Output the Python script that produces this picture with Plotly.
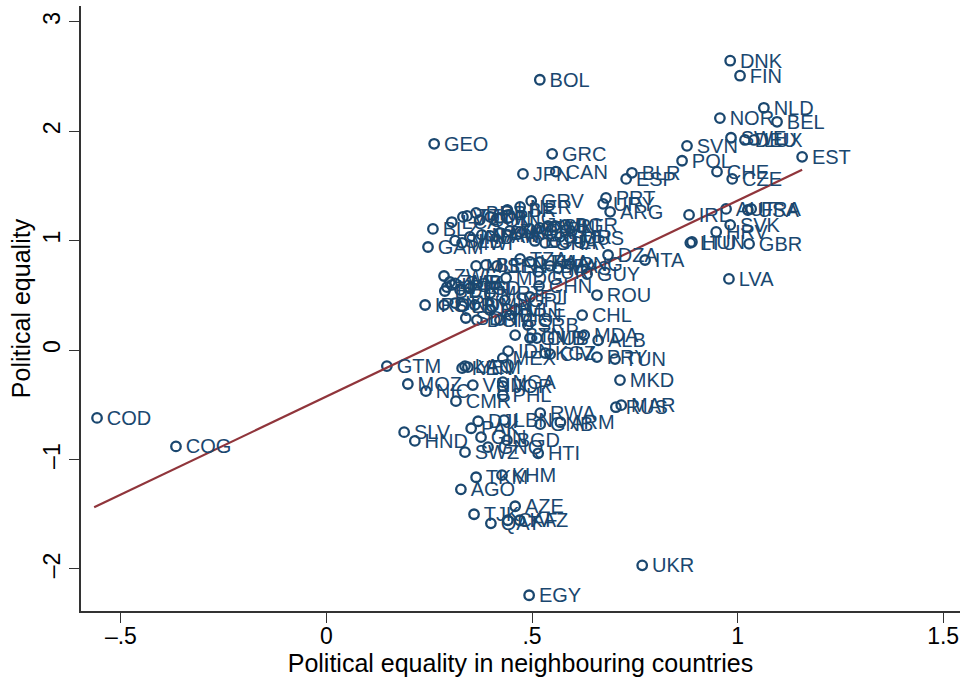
import plotly.graph_objects as go

countries = ["COD","COG","GTM","MOZ","NIC","SLV","HND","CMR","VNM","NGA","PHL","JOR","LAO","KEN","YEM",
"DJI","LBN","RWA","GNB","ARM","PAK","GIN","GNQ","BGD","MAR","RUS","SWZ","HTI","AGO","TKM","KHM","AZE","TJK","CAF","KAZ","QAT","UKR","EGY",
"DNK","FIN","NLD","BEL","NOR","SWE","LUX","DEU","EST","SVN","POL","CHE","CZE","AUT","FRA","USA","IRL","SVK","HRV","HUN","LTU","GBR","LVA",
"BOL","GEO","GRC","CAN","JPN","BLR","ESP","PRT","URY","ARG","GRV","NER","DZA","ITA","GUY","ROU","CHL","MDA","ALB","PRY","TUN","MKD",
"BLZ","LCA","VUT","TTO","BRB","COL","CRI","MNG","LBR",
"SLB","MWI","IND","NAM","PAN","BWA","ZAF","KOR","CYP","TWN","ISR","MLT","BGR","MUS","ECU","PER","GHA","SUR","GAM",
"MLI","BEN","SEN","TZA","LKA","THA","BFA","MYS","PNG","TUR","ZWE","ZMB","MDG",
"BDI","UGA","SLE","ETH","TCD","MRT","FJI","CHN","NPL","IRQ","SYR","IRN","LBY","OMN","SDN","DOM","BIH","SGP","BRN","TGO","SRB","MLE","GMB","CUB","BTN",
"IDN","MEX","KGZ","CIV"]
equality_neighbours = [-0.558,-0.366,0.147,0.198,0.242,0.189,0.215,0.315,0.356,0.429,0.429,0.429,0.337,0.33,0.344,
0.369,0.432,0.52,0.52,0.569,0.352,0.376,0.393,0.439,0.717,0.704,0.337,0.515,0.327,0.364,0.427,0.459,0.359,0.441,0.47,0.40,0.768,0.493,
0.982,1.006,1.064,1.096,0.957,0.984,1.04,1.018,1.157,0.877,0.865,0.95,0.987,0.972,1.033,1.025,0.882,0.982,0.948,0.889,0.885,1.028,0.979,
0.519,0.262,0.549,0.558,0.478,0.743,0.729,0.68,0.673,0.69,0.498,0.471,0.685,0.775,0.634,0.658,0.622,0.627,0.661,0.658,0.702,0.714,
0.259,0.305,0.332,0.342,0.364,0.373,0.398,0.422,0.44,
0.313,0.33,0.349,0.378,0.398,0.422,0.446,0.471,0.495,0.519,0.539,0.556,0.58,0.592,0.507,0.556,0.532,0.568,0.247,
0.364,0.388,0.415,0.471,0.495,0.519,0.544,0.563,0.592,0.515,0.286,0.3,0.437,
0.288,0.305,0.313,0.325,0.349,0.398,0.495,0.517,0.293,0.24,0.286,0.313,0.33,0.361,0.339,0.366,0.398,0.434,0.446,0.422,0.49,0.459,0.495,0.512,0.459,
0.442,0.429,0.532,0.544]
political_equality = [-0.62,-0.88,-0.146,-0.31,-0.375,-0.75,-0.83,-0.467,-0.32,-0.293,-0.412,-0.33,-0.146,-0.165,-0.156,
-0.65,-0.64,-0.576,-0.677,-0.659,-0.714,-0.796,-0.887,-0.823,-0.503,-0.522,-0.933,-0.943,-1.272,-1.162,-1.143,-1.427,-1.5,-1.555,-1.555,-1.583,-1.967,-2.24,
2.644,2.507,2.214,2.086,2.12,1.94,1.92,1.92,1.766,1.866,1.73,1.63,1.564,1.29,1.29,1.28,1.235,1.144,1.08,0.988,0.98,0.97,0.65,
2.47,1.885,1.793,1.63,1.61,1.62,1.564,1.39,1.336,1.263,1.363,1.308,0.869,0.823,0.695,0.503,0.32,0.137,0.09,-0.064,-0.082,-0.274,
1.107,1.17,1.217,1.226,1.253,1.19,1.217,1.208,1.28,
1.0,0.98,1.034,1.052,1.043,1.07,1.089,1.08,1.107,1.116,1.134,1.134,1.144,1.025,0.997,0.988,0.979,1.034,0.942,
0.769,0.778,0.769,0.833,0.805,0.805,0.769,0.75,0.787,0.714,0.677,0.622,0.659,
0.54,0.595,0.61,0.549,0.567,0.52,0.485,0.586,0.576,0.412,0.412,0.43,0.403,0.412,0.293,0.274,0.366,0.457,0.32,0.274,0.229,0.366,0.11,0.11,0.137,
-0.009,-0.073,-0.027,-0.037]
fit_x = [-0.565, 1.157]
fit_y = [-1.436, 1.647]
x_ticks = [-0.5, 0, 0.5, 1, 1.5]
x_tick_labels = ["–.5", "0", ".5", "1", "1.5"]
y_ticks = [-2, -1, 0, 1, 2, 3]
y_tick_labels = ["–2", "–1", "0", "1", "2", "3"]

NAVY = "#1a476f"
Y_RANGE = [-2.384, 3.144]
LABEL_DROP = 0.018  # labels sit about 2 px below their marker centre

fig = go.Figure()
fig.add_trace(go.Scatter(x=equality_neighbours, y=political_equality, mode="markers",
    marker=dict(size=9.5, color="rgba(0,0,0,0)", line=dict(color=NAVY, width=2.3)), showlegend=False))
fig.add_trace(go.Scatter(x=equality_neighbours, y=political_equality, text=countries, mode="markers+text", yaxis="y2",
    textposition="middle right", textfont=dict(family="Liberation Sans", size=20, color=NAVY),
    marker=dict(size=14, color="rgba(0,0,0,0)", line=dict(width=0)), cliponaxis=False, showlegend=False))
fig.add_trace(go.Scatter(x=fit_x, y=fit_y, mode="lines", line=dict(color="#90353b", width=2.2), showlegend=False))

fig.update_layout(width=964, height=683, paper_bgcolor="white", plot_bgcolor="white",
    margin=dict(l=81, r=4, t=6, b=72), font=dict(family="Liberation Sans", color="black"),
    autosize=False,
    yaxis2=dict(overlaying="y", visible=False, range=[Y_RANGE[0] + LABEL_DROP, Y_RANGE[1] + LABEL_DROP]))
fig.update_xaxes(range=[-0.597, 1.541], tickvals=x_ticks, ticktext=x_tick_labels, automargin=True,
    showgrid=False, zeroline=False, showline=True, linecolor="#333333", linewidth=1.5,
    ticks="outside", ticklen=10, tickwidth=1.2, tickcolor="#333333", tickfont=dict(size=23), ticklabelstandoff=-6,
    title=dict(text="Political equality in neighbouring countries", font=dict(size=25), standoff=2))
fig.update_layout(yaxis=dict(range=Y_RANGE, tickvals=y_ticks, ticktext=y_tick_labels, automargin=True,
    showgrid=False, zeroline=False, showline=True, linecolor="#333333", linewidth=1.5,
    ticks="outside", ticklen=10, tickwidth=1.2, tickcolor="#333333", tickfont=dict(size=23), tickangle=-90,
    title=dict(text="Political equality", font=dict(size=25), standoff=1)))
fig.write_html("out.html", config={"displayModeBar": False}, post_script="document.body.style.margin='0';")
